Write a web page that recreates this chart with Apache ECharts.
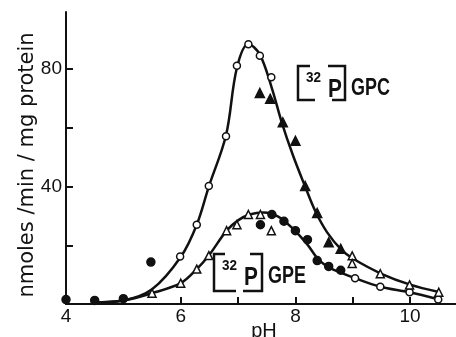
<!DOCTYPE html>
<html>
<head>
<meta charset="utf-8">
<script src="https://cdn.jsdelivr.net/npm/echarts@6/dist/echarts.min.js"></script>
<style>
  html, body { margin: 0; padding: 0; background: #fff; }
  #chart { width: 456px; height: 337px; }
</style>
</head>
<body>
<div id="chart"></div>
<script>
// measured points, [pH, nmoles/min/mg protein]
var openCircles = [
  [5.99, 16.2], [6.28, 27], [6.49, 40.2], [6.79, 57.2], [6.98, 81.2], [7.18, 88.5],
  [7.38, 84.6], [7.58, 77.3], [9.04, 8.8], [9.48, 5.9], [9.99, 4.0], [10.49, 1.5]
];
var openTriangles = [
  [5.5, 3.7], [6.0, 7.1], [6.28, 11.9], [6.49, 16.5], [6.8, 25], [6.98, 27],
  [7.18, 30.5], [7.39, 30.5], [7.58, 25], [8.99, 16.4], [8.99, 13.8],
  [9.48, 10.3], [9.99, 6.5], [10.5, 4.0]
];
var filledCircles = [
  [4.0, 1.5], [4.5, 1.2], [5.0, 1.8], [5.48, 14.3], [7.39, 27], [7.59, 30.5],
  [7.8, 28.2], [8.0, 25], [8.21, 21.9], [8.38, 14.8], [8.58, 12.8], [8.79, 11.5]
];
var filledTriangles = [
  [7.38, 71.9], [7.56, 69.9], [7.78, 61.9], [8.0, 55.6], [8.17, 40.2],
  [8.38, 31], [8.58, 21], [8.79, 18.8]
];

// hand drawn curves
var gpcCurve = [
  [4.45, 0.5], [5.0, 1.2], [5.5, 5.0], [6.0, 16], [6.28, 27], [6.49, 40], [6.79, 57.5],
  [6.98, 80.5], [7.18, 88.6], [7.38, 85], [7.59, 73.5], [7.76, 62], [7.96, 50.5],
  [8.17, 40], [8.35, 31.5], [8.55, 24.5], [8.8, 18.5], [9.0, 15.5],
  [9.5, 10.3], [10.0, 6.6], [10.5, 4.1]
];
var gpeCurve = [
  [4.45, 0.5], [5.0, 1.2], [5.5, 3.7], [6.0, 7.1], [6.28, 11.9], [6.49, 16.5], [6.8, 25],
  [7.0, 28.5], [7.2, 30.5], [7.45, 31.2], [7.7, 29.8], [7.95, 25.8], [8.2, 20.5],
  [8.4, 15.2], [8.6, 12.3], [8.8, 10.6], [9.04, 8.8], [9.48, 5.9],
  [9.99, 4.0], [10.49, 1.6]
];

var xTicks = [4, 5, 6, 7, 8, 9, 10];
var xLabels = [4, 6, 8, 10];
var yTicks = [0, 20, 40, 60, 80];
var yLabels = [40, 80];

var FONT = 'Liberation Sans';
var INK = '#111';

var myChart = echarts.init(document.getElementById('chart'));

function curve(data) {
  return {
    type: 'line', data: data, smooth: 0.35, symbol: 'none',
    lineStyle: { color: INK, width: 2.5 }, z: 2, silent: true
  };
}
function dots(data, symbol, filled, size) {
  return {
    type: 'scatter', data: data, symbol: symbol, symbolSize: size, z: 4,
    itemStyle: { color: filled ? INK : '#fff', borderColor: INK, borderWidth: 1.5, opacity: 1 }
  };
}

// bracketed label, [32P] + name
function isoLabel(x, y, w, h, topL, botL, topR, botR, name) {
  var r = x + w, b = y + h;
  var line = { stroke: INK, lineWidth: 2.5, fill: null };
  return [
    { type: 'polyline', shape: { points: [[x + topL, y], [x, y], [x, b], [x + botL, b]] }, style: line },
    { type: 'polyline', shape: { points: [[r - topR, y], [r, y], [r, b], [r - botR, b]] }, style: line },
    { type: 'text', x: x + 8, y: y + 12, scaleX: 0.9,
      style: { text: '32', font: 'bold 15px ' + FONT, fill: INK, textVerticalAlign: 'middle' } },
    { type: 'text', x: x + 30, y: y + 24, scaleX: 0.8,
      style: { text: 'P', font: 'bold 26px ' + FONT, fill: INK, textVerticalAlign: 'middle' } },
    { type: 'text', x: r + 6, y: y + 23, scaleX: 0.78,
      style: { text: name, font: 'bold 23px ' + FONT, fill: INK, textVerticalAlign: 'middle' } }
  ];
}

var option = {
  animation: false,
  backgroundColor: '#fff',
  grid: { left: 66, right: 0, top: 12, bottom: 33, outerBoundsMode: 'none' },
  xAxis: {
    type: 'value', min: 4, max: 10.8, interval: 1,
    name: 'pH', nameLocation: 'middle', nameGap: 17, nameMoveOverlap: false,
    nameTextStyle: { fontFamily: FONT, fontSize: 20, color: INK, padding: [0, 0, 0, 6] },
    axisLine: { lineStyle: { color: INK, width: 2 } },
    axisTick: { inside: true, length: 7, lineStyle: { color: INK, width: 2 }, customValues: xTicks },
    axisLabel: { fontFamily: FONT, fontSize: 19, color: INK, margin: 3, customValues: xLabels },
    splitLine: { show: false }
  },
  yAxis: {
    type: 'value', min: 0, max: 99.5, interval: 20,
    name: 'nmoles /min / mg protein', nameLocation: 'middle', nameGap: 28, nameMoveOverlap: false,
    nameTextStyle: { fontFamily: 'DejaVu Sans', fontSize: 21, color: INK, padding: [0, 14, 0, 0] },
    axisLine: { lineStyle: { color: INK, width: 2 } },
    axisTick: { inside: true, length: 7, lineStyle: { color: INK, width: 2 }, customValues: yTicks },
    axisLabel: { fontFamily: FONT, fontSize: 19, color: INK, margin: 4, customValues: yLabels },
    splitLine: { show: false }
  },
  graphic: isoLabel(298, 66, 47, 34, 12, 17, 17, 13, 'GPC')
    .concat(isoLabel(214, 254, 48, 37, 11, 22, 12, 19, 'GPE')),
  series: [
    curve(gpcCurve),
    curve(gpeCurve),
    dots(openCircles, 'circle', false, 7),
    dots(openTriangles, 'triangle', false, 8),
    dots(filledCircles, 'circle', true, 8),
    dots(filledTriangles, 'triangle', true, 9)
  ]
};

myChart.setOption(option);
</script>
</body>
</html>
